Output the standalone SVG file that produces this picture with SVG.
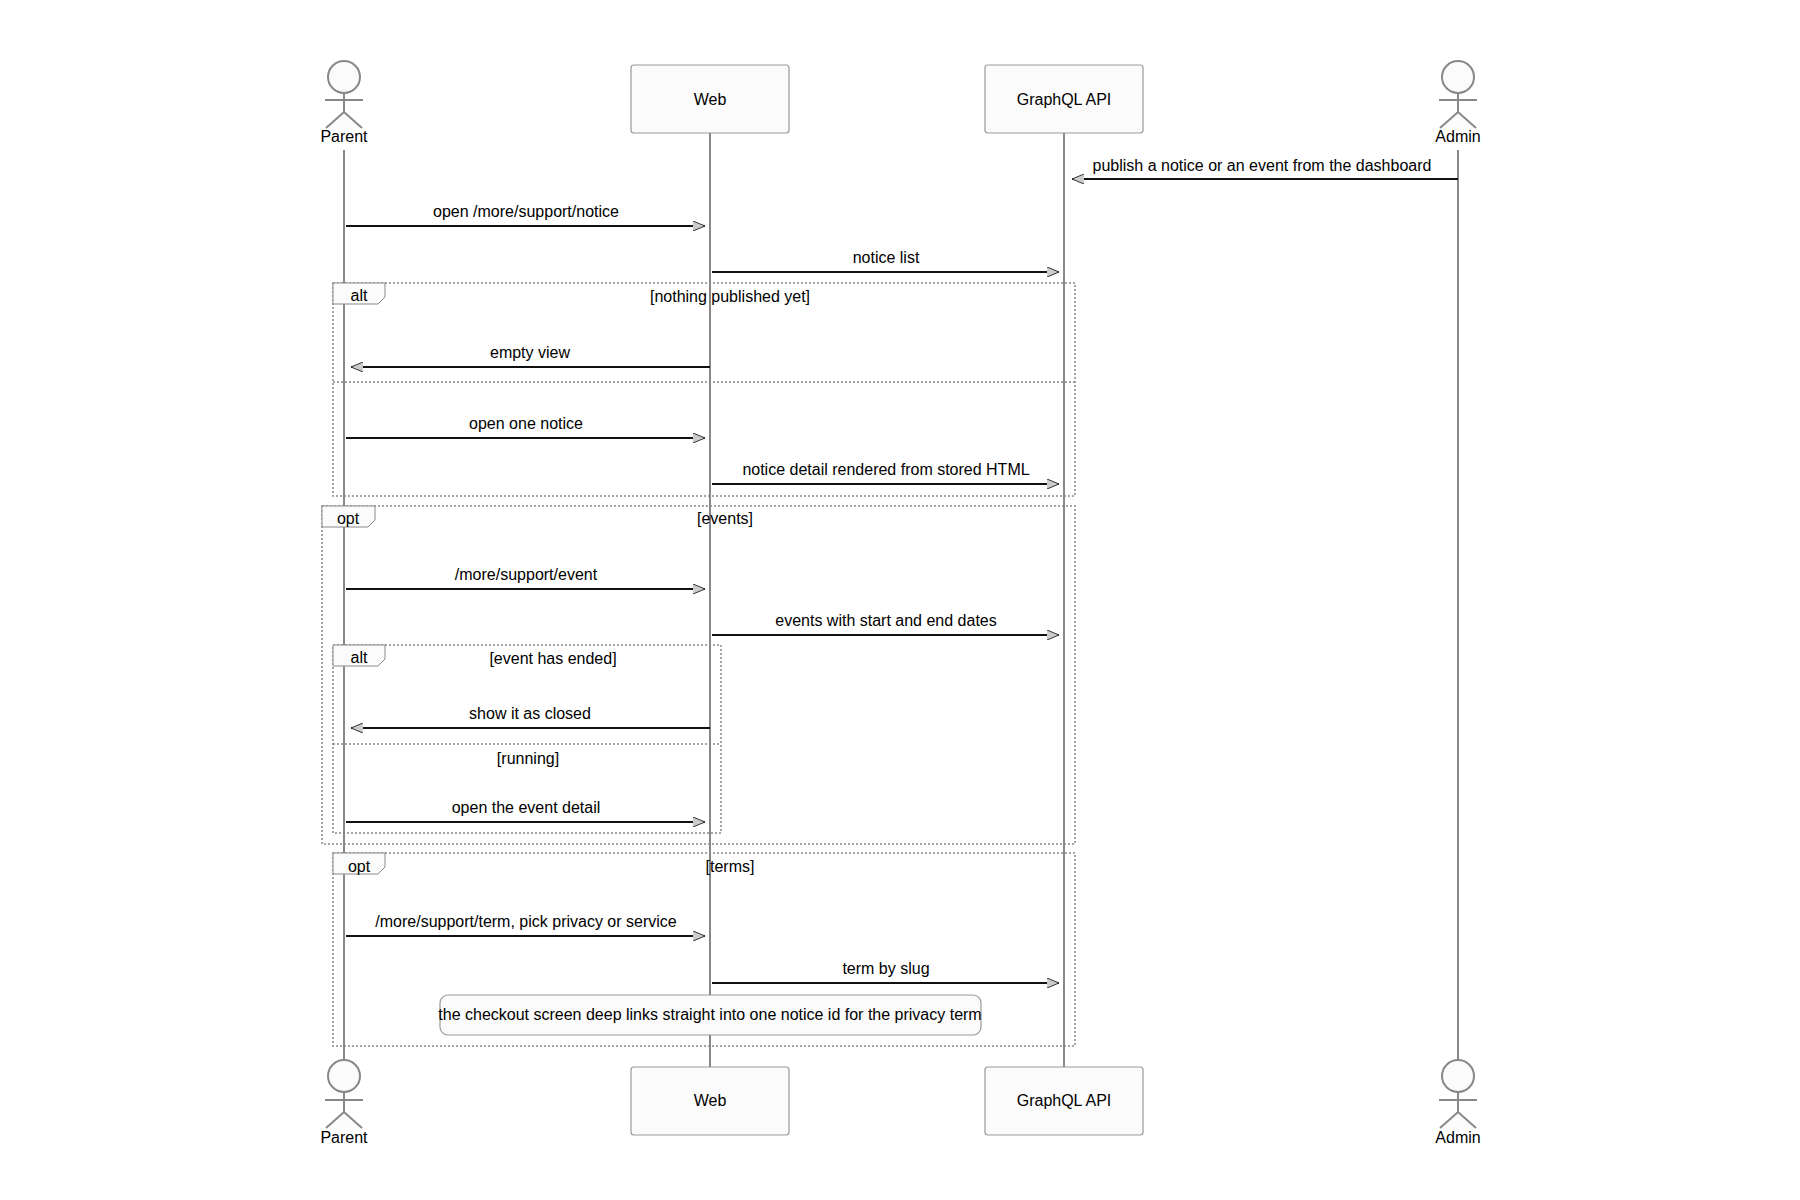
<svg xmlns="http://www.w3.org/2000/svg" width="1800" height="1200" viewBox="0 0 1800 1200">
<style>
text{font-family:"Liberation Sans",Arial,sans-serif;font-size:16px;fill:#000}
.c{text-anchor:middle}
.life{stroke:#888;stroke-width:2}
.box{fill:#fbfbfb;stroke:#999;stroke-width:1.2}
.actor{fill:#fbfbfb;stroke:#888;stroke-width:2}
.msg{stroke:#111;stroke-width:2;fill:none;marker-end:url(#ah)}
.frame{fill:none;stroke:#888;stroke-width:1.5;stroke-dasharray:2 2}
.tab{fill:#fbfbfb;stroke:#888;stroke-width:1}
</style>
<defs>
<marker id="ah" viewBox="0 0 12 10" refX="12" refY="5" markerWidth="12" markerHeight="10" markerUnits="userSpaceOnUse" orient="auto">
<path d="M0,0 L12,5 L0,10" fill="#ccc" stroke="#333" stroke-width="1"/>
</marker>
</defs>
<g id="lifelines">
<line class="life" x1="344" y1="150" x2="344" y2="1060"/>
<line class="life" x1="710" y1="133" x2="710" y2="1067"/>
<line class="life" x1="1064" y1="133" x2="1064" y2="1067"/>
<line class="life" x1="1458" y1="150" x2="1458" y2="1060"/>
</g>
<g id="parent-top"><circle class="actor" cx="344" cy="77" r="16"/><path class="actor" d="M344,93 V112 M325,100 H363 M326,128 L344,112 L362,128"/><text class="c" x="344" y="142">Parent</text></g>
<g id="web-top"><rect class="box" x="631" y="65" width="158" height="68" rx="3"/><text class="c" x="710" y="105">Web</text></g>
<g id="api-top"><rect class="box" x="985" y="65" width="158" height="68" rx="3"/><text class="c" x="1064" y="105">GraphQL API</text></g>
<g id="admin-top"><circle class="actor" cx="1458" cy="77" r="16"/><path class="actor" d="M1458,93 V112 M1439,100 H1477 M1440,128 L1458,112 L1476,128"/><text class="c" x="1458" y="142">Admin</text></g>
<g id="frames">
<rect class="frame" x="333" y="283" width="742" height="213"/>
<line class="frame" x1="333" y1="382" x2="1075" y2="382"/>
<path class="tab" d="M333,283 H385 V297 L378,304 H333 Z"/><text class="c" x="359" y="301">alt</text>
<text class="c" x="730" y="302">[nothing published yet]</text>
<rect class="frame" x="322" y="506" width="753" height="338"/>
<path class="tab" d="M322,506 H375 V520 L368,527 H322 Z"/><text class="c" x="348" y="524">opt</text>
<text class="c" x="725" y="524">[events]</text>
<rect class="frame" x="333" y="645" width="388" height="188"/>
<line class="frame" x1="333" y1="744" x2="721" y2="744"/>
<path class="tab" d="M333,645 H385 V659 L378,666 H333 Z"/><text class="c" x="359" y="663">alt</text>
<text class="c" x="553" y="664">[event has ended]</text>
<text class="c" x="528" y="764">[running]</text>
<rect class="frame" x="333" y="853" width="742" height="193"/>
<path class="tab" d="M333,853 H385 V867 L378,874 H333 Z"/><text class="c" x="359" y="872">opt</text>
<text class="c" x="730" y="872">[terms]</text>
</g>
<g id="connectors">
<line class="msg" x1="1458" y1="179" x2="1072" y2="179"/><text class="c" x="1262" y="171">publish a notice or an event from the dashboard</text>
<line class="msg" x1="346" y1="226" x2="705" y2="226"/><text class="c" x="526" y="217">open /more/support/notice</text>
<line class="msg" x1="712" y1="272" x2="1059" y2="272"/><text class="c" x="886" y="263">notice list</text>
<line class="msg" x1="710" y1="367" x2="351" y2="367"/><text class="c" x="530" y="358">empty view</text>
<line class="msg" x1="346" y1="438" x2="705" y2="438"/><text class="c" x="526" y="429">open one notice</text>
<line class="msg" x1="712" y1="484" x2="1059" y2="484"/><text class="c" x="886" y="475">notice detail rendered from stored HTML</text>
<line class="msg" x1="346" y1="589" x2="705" y2="589"/><text class="c" x="526" y="580">/more/support/event</text>
<line class="msg" x1="712" y1="635" x2="1059" y2="635"/><text class="c" x="886" y="626">events with start and end dates</text>
<line class="msg" x1="710" y1="728" x2="351" y2="728"/><text class="c" x="530" y="719">show it as closed</text>
<line class="msg" x1="346" y1="822" x2="705" y2="822"/><text class="c" x="526" y="813">open the event detail</text>
<line class="msg" x1="346" y1="936" x2="705" y2="936"/><text class="c" x="526" y="927">/more/support/term, pick privacy or service</text>
<line class="msg" x1="712" y1="983" x2="1059" y2="983"/><text class="c" x="886" y="974">term by slug</text>
</g>
<g id="note"><rect x="440" y="995" width="541" height="40" rx="8" fill="#fbfbfb" stroke="#999" stroke-width="1.2"/><text class="c" x="710" y="1020">the checkout screen deep links straight into one notice id for the privacy term</text></g>
<g id="parent-bottom"><circle class="actor" cx="344" cy="1076" r="16"/><path class="actor" d="M344,1092 V1112 M325,1100 H363 M326,1128 L344,1112 L362,1128"/><text class="c" x="344" y="1143">Parent</text></g>
<g id="web-bottom"><rect class="box" x="631" y="1067" width="158" height="68" rx="3"/><text class="c" x="710" y="1106">Web</text></g>
<g id="api-bottom"><rect class="box" x="985" y="1067" width="158" height="68" rx="3"/><text class="c" x="1064" y="1106">GraphQL API</text></g>
<g id="admin-bottom"><circle class="actor" cx="1458" cy="1076" r="16"/><path class="actor" d="M1458,1092 V1112 M1439,1100 H1477 M1440,1128 L1458,1112 L1476,1128"/><text class="c" x="1458" y="1143">Admin</text></g>
</svg>
